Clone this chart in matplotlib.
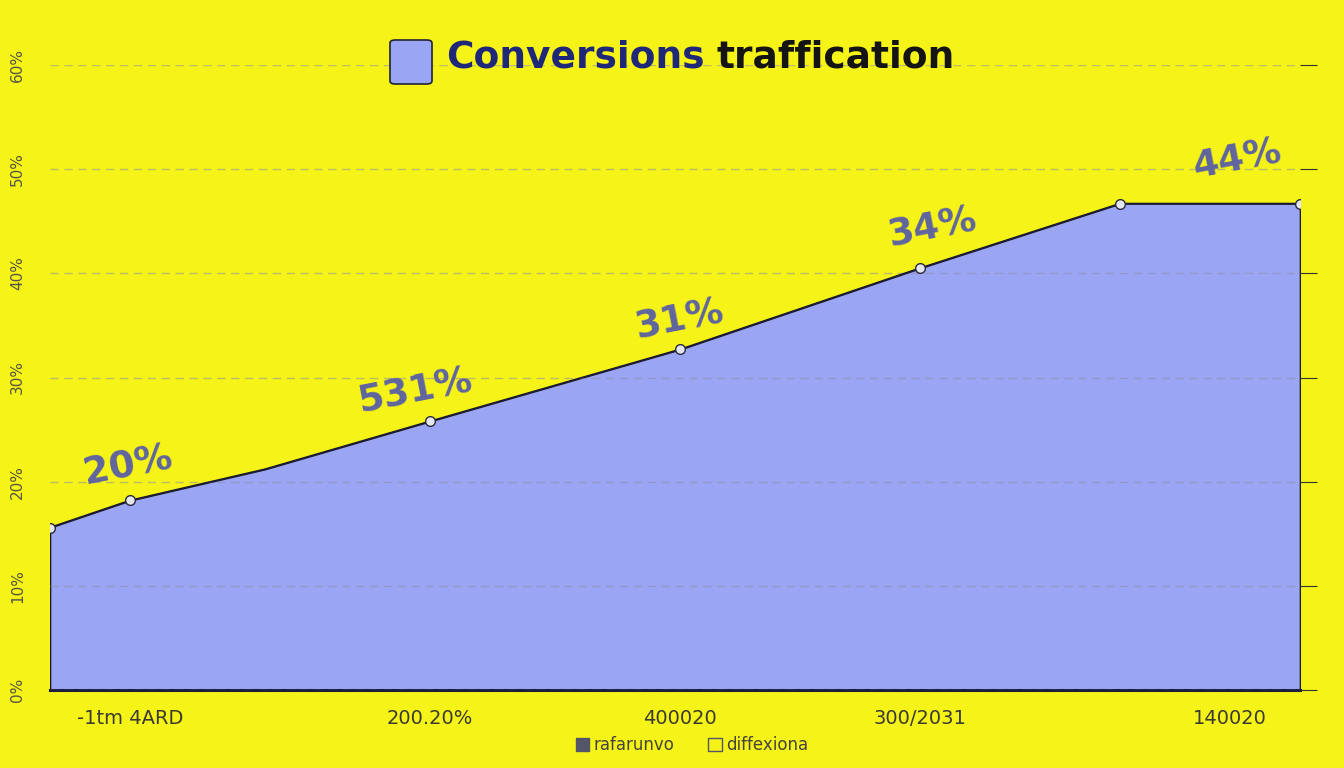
"""Conversions traffication area chart."""

import matplotlib

matplotlib.use("Agg")
import matplotlib.pyplot as plt
from matplotlib.patches import FancyBboxPatch, Patch

# data
x_vals = [0.0, 6.4, 17.2, 30.4, 50.4, 69.6, 85.6, 100.0]
conv_rate = [15.6, 18.2, 21.2, 25.8, 32.7, 40.5, 46.7, 46.7]
marker_idx = [0, 1, 3, 4, 5, 6, 7]

label_idx = [1, 3, 4, 5, 7]
label_text = ["20%", "531%", "31%", "34%", "44%"]

x_tick_pos = [6.4, 30.4, 50.4, 69.6, 94.4]
x_tick_labels = ["-1tm 4ARD", "200.20%", "400020", "300/2031", "140020"]
y_ticks = [0, 10, 20, 30, 40, 50, 60]
y_tick_labels = ["0%", "10%", "20%", "30%", "40%", "50%", "60%"]

legend_labels = ["rafarunvo", "diffexiona"]

BG = "#f5f317"
FILL = "#9aa6f3"
TEXT_BLUE = "#5f64a0"
NAVY = "#1f2878"

fig = plt.figure(figsize=(13.44, 7.68), dpi=100, facecolor=BG)
ax = fig.add_axes([50 / 1344, 78 / 768, 1250 / 1344, 625 / 768])
ax.set_facecolor(BG)

ax.fill_between(x_vals, conv_rate, 0, color=FILL, edgecolor="#1c1c30",
                linewidth=1.2, zorder=2)
ax.plot(x_vals, conv_rate, color="#1c1c30", linewidth=1.2, zorder=3,
        marker="o", markevery=marker_idx, markersize=7,
        markerfacecolor="#e4e6f0", markeredgecolor="#2a2a3a",
        markeredgewidth=1.0)

# rotated value labels above the line
offsets = [(-1.5, 25), (-11, 21), (0, 21), (9, 29), (-45, 31)]
for i, txt, off in zip(label_idx, label_text, offsets):
    ax.annotate(txt, (x_vals[i], conv_rate[i]), xytext=off,
                textcoords="offset points", ha="center", va="center",
                fontsize=27, fontweight="semibold", color=TEXT_BLUE,
                rotation=11, zorder=4)

ax.set_xlim(0, 100)
ax.set_ylim(0, 60)
ax.set_yticks(y_ticks)
ax.set_yticklabels(y_tick_labels, rotation=90, va="center", fontsize=11,
                   color="#555544")
ax.set_xticks(x_tick_pos)
ax.set_xticklabels(x_tick_labels, fontsize=14, color="#3a3a30")
ax.tick_params(axis="x", length=0, pad=14)
ax.tick_params(axis="y", left=False, right=True, direction="out",
               length=12, color="#333333", pad=6)

ax.grid(axis="y", linestyle=(0, (6, 4)), color="#8d90a8", alpha=0.55,
        linewidth=1.0, zorder=2.5)
ax.set_axisbelow(False)

for side in ["top", "right", "left"]:
    ax.spines[side].set_visible(False)
ax.spines["bottom"].set_color("#1c1c40")
ax.spines["bottom"].set_linewidth(2.2)

# title with a square swatch in front of it
swatch = FancyBboxPatch((390 / 1344, 1 - 84 / 768), 42 / 1344, 44 / 768,
                        boxstyle="round,pad=0,rounding_size=0.004",
                        transform=fig.transFigure, facecolor=FILL,
                        edgecolor="#222233", linewidth=1.2)
fig.patches.append(swatch)
title_a = fig.text(446 / 1344, 1 - 57 / 768, "Conversions", fontsize=27,
                   fontweight="bold", color=NAVY, va="center", ha="left")
renderer = fig.canvas.get_renderer()
bbox = title_a.get_window_extent(renderer=renderer)
fig.text(bbox.x1 / 1344 + 12 / 1344, 1 - 57 / 768, "traffication",
         fontsize=27, fontweight="bold", color="#141414", va="center",
         ha="left")

handles = [Patch(facecolor="#55556a", edgecolor="#55556a"),
           Patch(facecolor="none", edgecolor="#55556a")]
fig.legend(handles, legend_labels, loc="center", ncol=2,
           bbox_to_anchor=(0.515, 1 - 745 / 768), frameon=False,
           fontsize=12, labelcolor="#44443a", handlelength=0.8,
           handleheight=0.8, columnspacing=2.0, handletextpad=0.3)

fig.savefig("out.png", dpi=100, facecolor=BG)
